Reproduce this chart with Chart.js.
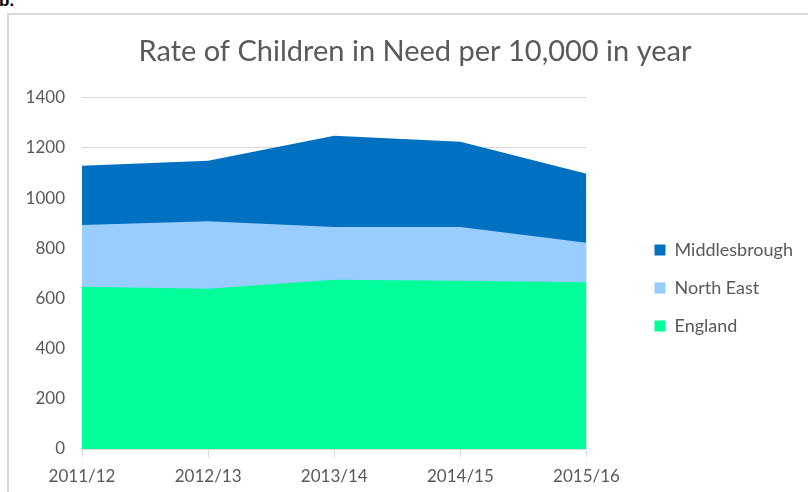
<!DOCTYPE html>
<html>
<head>
<meta charset="utf-8">
<script src="https://cdn.jsdelivr.net/npm/chart.js@4.4.1/dist/chart.umd.min.js"></script>
<style>
    body { margin: 0; background: #fff; overflow: hidden; }
    #tag { position: absolute; left: -1px; top: -9px; font: bold 17px "Liberation Sans", sans-serif; color: #000; }
    #box { position: absolute; left: 7px; top: 13px; width: 820px; height: 500px; border: 2px solid #d9d9d9; }
    #wrap { position: absolute; left: 8px; top: 14px; width: 800px; height: 478px; }
</style>
</head>
<body>
<div id="tag">b.</div>
<div id="box"></div>
<div id="wrap"><canvas id="AreaChildrenInNeed"></canvas></div>
<script>
const years = ['2011/12', '2012/13', '2013/14', '2014/15', '2015/16'];
const middlesbrough = [1129, 1149, 1249, 1225, 1097];
const northEast = [893, 908, 885, 885, 822];
const england = [647, 639, 675, 671, 665];

const grey = '#595959';
Chart.defaults.font.family = 'Lato';
Chart.defaults.color = grey;

// nudge the legend column so it sits beside the middle of the plot
const legendShift = {
    id: 'legendShift',
    afterLayout: chart => {
        chart.legend.top += 35;
        chart.legend.bottom += 35;
        chart.legend.left -= 5;
        chart.legend.right -= 5;
    }
};

let AreaChildrenInNeed = new Chart(
    document.getElementById('AreaChildrenInNeed'), {
        type: 'line',
        plugins: [legendShift],
        data: {
            labels: years,
            datasets: [
                {
                    label: 'England',
                    data: england,
                    backgroundColor: '#00FF99',
                },
                {
                    label: 'North East',
                    data: northEast,
                    backgroundColor: '#99CCFF',
                },
                {
                    label: 'Middlesbrough',
                    data: middlesbrough,
                    backgroundColor: '#0070C0',
                },
            ]
        },
        options: {
            maintainAspectRatio: false,
            animation: false,
            elements: {
                line: { fill: 'origin', borderWidth: 0, tension: 0 },
                point: { radius: 0, hoverRadius: 0 },
            },
            layout: {
                padding: { left: 14, right: 0, top: 0, bottom: 0 }
            },
            scales: {
                x: {
                    grid: {
                        drawOnChartArea: false,
                        tickLength: 8,
                        color: '#d9d9d9',
                    },
                    border: { color: '#d9d9d9' },
                    ticks: {
                        padding: 9,
                        font: { size: 17 },
                        maxRotation: 0,
                    },
                    afterFit: s => { s.height = 43; },
                },
                y: {
                    min: 0,
                    max: 1400,
                    ticks: {
                        stepSize: 200,
                        padding: 17,
                        font: { size: 17 },
                        callback: v => String(v),
                    },
                    grid: {
                        color: '#d9d9d9',
                        drawTicks: false,
                    },
                    border: { display: false },
                    afterFit: s => { s.width = 60; },
                },
                gap: {
                    position: 'right',
                    display: true,
                    grid: { display: false, drawTicks: false },
                    ticks: { display: false },
                    border: { display: false },
                    afterFit: s => { s.width = 53; },
                },
            },
            plugins: {
                title: {
                    display: true,
                    text: 'Rate of Children in Need per 10,000 in year',
                    color: grey,
                    font: { size: 29, weight: 'normal' },
                    padding: { top: 20, bottom: 29 },
                },
                legend: {
                    position: 'right',
                    reverse: true,
                    maxWidth: 220,
                    labels: {
                        boxWidth: 11,
                        boxHeight: 11,
                        padding: 20,
                        color: grey,
                        font: { size: 18 },
                    }
                },
                tooltip: { enabled: false },
            },
        }
    }
);
</script>
</body>
</html>
